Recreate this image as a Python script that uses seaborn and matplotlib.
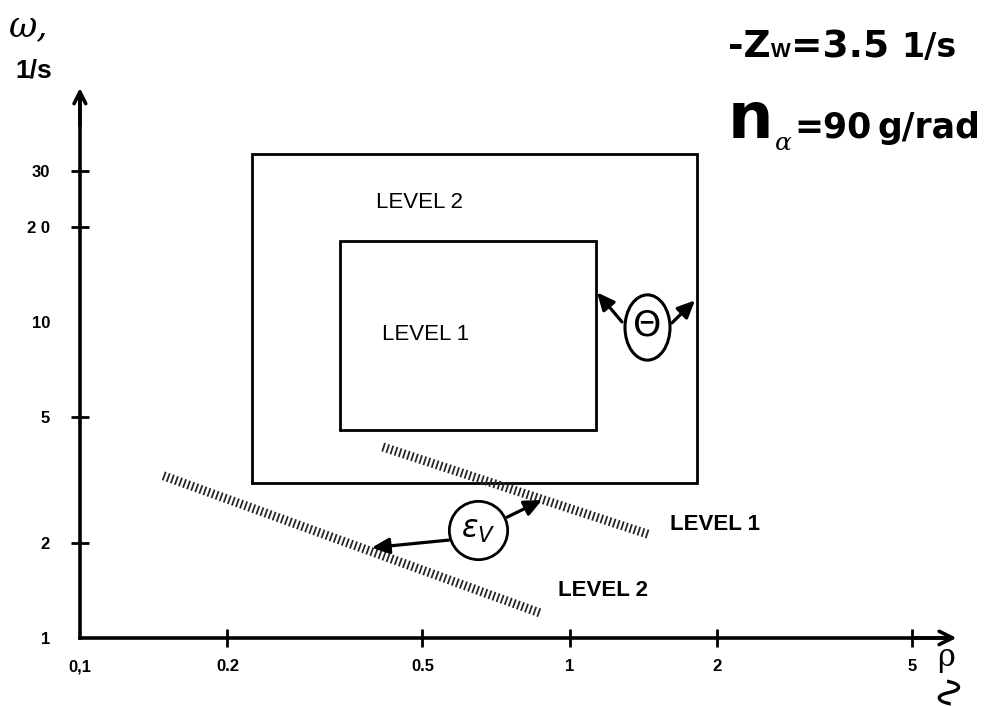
import matplotlib
matplotlib.use("Agg")
import matplotlib.pyplot as plt
from matplotlib.path import Path
from matplotlib.transforms import Affine2D
from matplotlib.ticker import NullLocator
import seaborn as sns

# Axis ticks
rho_ticks = [0.1, 0.2, 0.5, 1, 2, 5]
rho_tick_labels = ["0,1", "0.2", "0.5", "1", "2", "5"]
omega_ticks = [1, 2, 5, 10, 20, 30]
omega_tick_labels = ["1", "2", "5", "10", "2 0", "30"]

# Level boundaries (rectangles): rho range, omega range
level2_rho = [0.225, 1.82]
level2_omega = [3.1, 34.0]
level1_rho = [0.34, 1.13]
level1_omega = [4.55, 18.0]

# Epsilon_V boundaries (hatched bands)
band1_rho = [0.415, 1.456]
band1_omega = [4.02, 2.12]
band2_rho = [0.148, 0.868]
band2_omega = [3.26, 1.20]

sns.set_theme(style="white")
plt.rcParams["font.family"] = ["Liberation Sans", "DejaVu Sans"]
plt.rcParams["text.color"] = "black"

W, H = 993, 706
fig = plt.figure(figsize=(W / 100, H / 100), dpi=100)
ax = fig.add_axes([0, 0, 1, 1])
ax.set_xscale("log")
ax.set_yscale("log")
ax.set_xlim(0.0687, 7.30)
ax.set_ylim(0.609, 104.4)
ax.patch.set_alpha(0)

# Axes drawn through the origin (0.1, 1) with arrow heads
for side in ("top", "right"):
    ax.spines[side].set_visible(False)
ax.spines["left"].set_position(("data", 0.1))
ax.spines["bottom"].set_position(("data", 1))
ax.spines["left"].set_bounds(1, 50)
ax.spines["bottom"].set_bounds(0.1, 5.9)
for side in ("left", "bottom"):
    ax.spines[side].set_linewidth(2.6)
    ax.spines[side].set_color("black")
ax.annotate("", xy=(0.1, 55), xytext=(0.1, 42),
            arrowprops=dict(arrowstyle="->,head_length=0.7,head_width=0.35",
                            lw=2.6, color="black", shrinkA=0, shrinkB=0))
ax.annotate("", xy=(6.15, 1), xytext=(5.0, 1),
            arrowprops=dict(arrowstyle="->,head_length=0.8,head_width=0.4",
                            lw=2.6, color="black", shrinkA=0, shrinkB=0))

ax.set_xticks(rho_ticks, rho_tick_labels)
ax.set_yticks(omega_ticks, omega_tick_labels)
ax.xaxis.set_minor_locator(NullLocator())
ax.yaxis.set_minor_locator(NullLocator())
ax.tick_params(axis="both", which="major", bottom=True, left=True,
               direction="inout", length=13, width=2, color="black",
               labelcolor="black", labelsize=12)
ax.tick_params(axis="x", pad=9)
ax.tick_params(axis="y", pad=15)
for lab in ax.get_xticklabels() + ax.get_yticklabels():
    lab.set_fontweight("bold")
ax.yaxis.get_major_ticks()[3].tick1line.set_visible(False)
ax.yaxis.get_major_ticks()[0].tick1line.set_visible(False)
ax.xaxis.get_major_ticks()[0].tick1line.set_visible(False)


def draw_rect(rho, omega):
    xs = [rho[0], rho[1], rho[1], rho[0], rho[0]]
    ys = [omega[0], omega[0], omega[1], omega[1], omega[0]]
    ax.plot(xs, ys, color="black", lw=2.0, solid_joinstyle="miter")


draw_rect(level2_rho, level2_omega)
draw_rect(level1_rho, level1_omega)
ax.text(0.494, 23.8, "LEVEL 2", fontsize=16, ha="center", va="center")
ax.text(0.508, 9.1, "LEVEL 1", fontsize=16, ha="center", va="center")

# Hatched boundary bands
for rho, omega in ((band1_rho, band1_omega), (band2_rho, band2_omega)):
    sns.lineplot(x=rho, y=omega, ax=ax, color="0.15", lw=6.5,
                 linestyle=(0, (0.2, 0.28)), dash_capstyle="butt", sort=False)
ax.text(1.60, 2.28, "LEVEL 1", fontsize=16, fontweight="bold", ha="left", va="center")
ax.text(0.946, 1.41, "LEVEL 2", fontsize=16, fontweight="bold", ha="left", va="center")

# Epsilon_V symbol with arrows to both bands
arrow_kw = dict(arrowstyle="-|>,head_length=0.7,head_width=0.32", lw=2.3,
                color="black", shrinkA=0, shrinkB=0, mutation_scale=15)
ax.plot([0.649], [2.20], marker="o", ms=42, mfc="none", mec="black", mew=2.0)
ax.text(0.649, 2.20, r"$\varepsilon_{V}$", fontsize=22, ha="center", va="center")
ax.annotate("", xy=(0.394, 1.93), xytext=(0.566, 2.04), arrowprops=arrow_kw)
ax.annotate("", xy=(0.877, 2.73), xytext=(0.744, 2.41), arrowprops=arrow_kw)

# Theta symbol with arrows to both rectangles
oval = Path.unit_circle().transformed(Affine2D().scale(1.0, 1.45))
ax.plot([1.436], [9.64], marker=oval, ms=47, mfc="none", mec="black", mew=2.2)
ax.text(1.436, 9.75, "Θ", fontsize=26, ha="center", va="center",
        family=["DejaVu Sans"])
ax.annotate("", xy=(1.136, 12.4), xytext=(1.277, 10.0), arrowprops=arrow_kw)
ax.annotate("", xy=(1.80, 11.7), xytext=(1.615, 9.93), arrowprops=arrow_kw)

# Axis titles
fig.text(8 / W, 1 - 36 / H, "ω,", fontsize=25, fontstyle="italic",
         family=["DejaVu Serif"], va="baseline")
fig.text(15 / W, 1 - 78 / H, "1/s", fontsize=19, fontweight="bold", va="baseline")
fig.text(946 / W, 1 - 666 / H, "ρ", fontsize=22, ha="center", va="baseline",
         family=["DejaVu Serif"])
fig.text(946 / W, 1 - 705 / H, "∿", fontsize=30, ha="center", va="bottom",
         rotation=90, family=["DejaVu Sans"])


def text_run(pieces, x0, baseline):
    """Place text pieces one after another on a common baseline (pixels)."""
    renderer = fig.canvas.get_renderer()
    x = x0
    for s, size, dy, gap, kw in pieces:
        t = fig.text(x / W, 1 - (baseline + dy) / H, s, fontsize=size,
                     ha="left", va="baseline", **kw)
        x = t.get_window_extent(renderer).x1 + gap


bold = dict(fontweight="bold", family=["DejaVu Sans"])
text_run([("-Z", 27, 0, 0, bold),
          ("W", 15, 0, 1, dict(fontweight="bold", family=["Liberation Sans"])),
          ("=3.5", 27, 0, 12, bold),
          ("1/s", 24, 0, 0, bold)], 728, 57)
text_run([("n", 46, 0, 1, bold),
          ("α", 18, 12, 3, dict(fontstyle="italic", family=["DejaVu Serif"])),
          ("=90", 25, 0, 6, bold),
          ("g/rad", 25, 0, 0, bold)], 728, 138)

fig.savefig("out.png", dpi=100, facecolor="white")
